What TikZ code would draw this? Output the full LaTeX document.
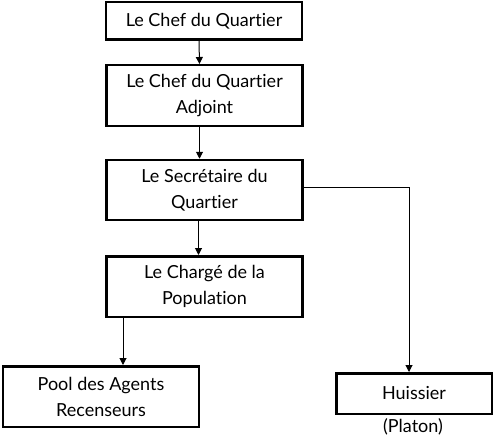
\documentclass[tikz,border=0pt]{standalone}
\usepackage{fontspec}
\setmainfont{Lato}[Ligatures={NoCommon,NoRare}]
\usetikzlibrary{arrows.meta,positioning}
\tikzset{
  poste/.style={draw, line width=2.5pt, align=center, inner sep=0pt,
    font=\fontsize{18}{26}\selectfont},
  fleche/.style={-{Triangle[width=7pt,length=7pt]}, line width=1pt},
}
\begin{document}
\begin{tikzpicture}[x=1pt,y=-1pt]
    \useasboundingbox (0,0) rectangle (494,441);
    \node (chef) [poste, minimum width=196pt, minimum height=37.5pt] at (204,21) {Le Chef du Quartier};
    \node (adjoint) [poste, minimum width=196pt, minimum height=60.5pt] at (204.5,95.5) {Le Chef du Quartier\\Adjoint};
    \node (secr) [poste, minimum width=196pt, minimum height=60pt] at (204.5,190) {Le Secrétaire du\\Quartier};
    \node (charge) [poste, minimum width=196pt, minimum height=60.5pt] at (204.5,286.5) {Le Chargé de la\\Population};
    \node (pool) [poste, minimum width=196pt, minimum height=60.5pt] at (101,396.5) {Pool des Agents\\Recenseurs};
    \node (huissier) [poste, minimum width=155.5pt, minimum height=40.5pt] at (414,393.5) {Huissier};
    \node (platon) [font=\fontsize{18}{26}\selectfont, inner sep=0pt] at (413,427) {(Platon)};

    \draw[fleche] ([xshift=-5pt]chef.south) -- ([xshift=-5pt]adjoint.north);
    \draw[fleche] ([xshift=-5pt]adjoint.south) -- ([xshift=-5pt]secr.north);
    \draw[fleche] ([xshift=-6pt]secr.south) -- ([xshift=-6pt]charge.south |- charge.north);
    \draw[fleche] ([xshift=-81.5pt]charge.south) -- ([xshift=22pt]pool.north);
    \draw[fleche] ([yshift=3pt]secr.east) -| ([xshift=-5pt]huissier.north);
\end{tikzpicture}
\end{document}
